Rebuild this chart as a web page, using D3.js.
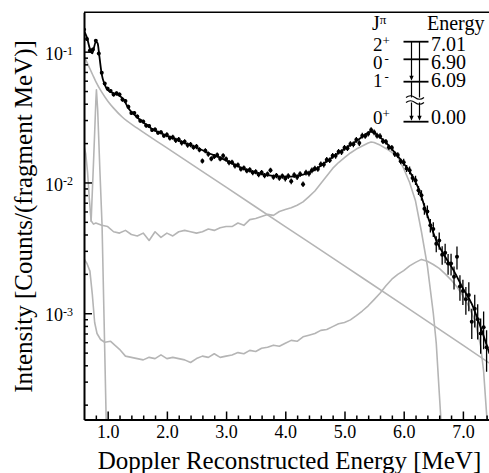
<!DOCTYPE html>
<html>
<head>
<meta charset="utf-8">
<script src="https://cdn.jsdelivr.net/npm/d3@7"></script>
<style>
body { margin: 0; background: #fff; }
</style>
</head>
<body>
<div id="chart"></div>
<script>
// measured spectrum, bins of 0.05 MeV (energy, counts, relative error)
var dataE = [
  0.60,0.65,0.70,0.75,0.80,0.85,0.90,0.95,
  1.00,1.05,1.10,1.15,1.20,1.25,1.30,1.35,1.40,1.45,
  1.50,1.55,1.60,1.65,1.70,1.75,1.80,1.85,1.90,1.95,
  2.00,2.05,2.10,2.15,2.20,2.25,2.30,2.35,2.40,2.45,
  2.50,2.55,2.60,2.65,2.70,2.75,2.80,2.85,2.90,2.95,
  3.00,3.05,3.10,3.15,3.20,3.25,3.30,3.35,3.40,3.45,
  3.50,3.55,3.60,3.65,3.70,3.75,3.80,3.85,3.90,3.95,
  4.00,4.05,4.10,4.15,4.20,4.25,4.30,4.35,4.40,4.45,
  4.50,4.55,4.60,4.65,4.70,4.75,4.80,4.85,4.90,4.95,
  5.00,5.05,5.10,5.15,5.20,5.25,5.30,5.35,5.40,5.45,
  5.50,5.55,5.60,5.65,5.70,5.75,5.80,5.85,5.90,5.95,
  6.00,6.05,6.10,6.15,6.20,6.25,6.30,6.35,6.40,6.45,
  6.50,6.55,6.60,6.65,6.70,6.75,6.80,6.85,6.90,6.95,
  7.00,7.05,7.10,7.15,7.20,7.25,7.30,7.35,7.40];
var dataVal = [
  0.148,0.125,0.102,0.104,0.121,0.097,0.069,0.057,
  0.052,0.050,0.047,0.048,0.047,0.043,0.042,0.038,0.034,0.034,
  0.0320,0.0296,0.0292,0.0272,0.0270,0.0252,0.0254,0.0240,0.0242,0.0228,
  0.0232,0.0219,0.0222,0.0210,0.0213,0.0201,0.0205,0.0193,0.0195,0.0186,
  0.0188,0.0178,0.0146,0.0175,0.0165,0.0152,0.0158,0.0162,0.0152,0.0160,
  0.0151,0.0142,0.0143,0.0134,0.0136,0.0127,0.0129,0.0123,0.0125,0.0119,
  0.0121,0.0115,0.0119,0.0113,0.0116,0.0124,0.0110,0.0113,0.0108,0.0112,
  0.0107,0.0112,0.0102,0.0114,0.0110,0.0116,0.0097,0.0119,0.0117,0.0124,
  0.0128,0.0127,0.0138,0.0137,0.0149,0.0148,0.0160,0.0160,0.0172,0.0171,
  0.0184,0.0183,0.0197,0.0196,0.0212,0.0200,0.0228,0.0227,0.0236,0.0252,
  0.0242,0.0228,0.0226,0.0207,0.0205,0.0186,0.0184,0.0165,0.0162,0.0145,
  0.0143,0.0128,0.0124,0.0108,0.0104,0.0087,0.0080,0.0063,0.0060,0.0047,
  0.0044,0.0034,0.0036,0.0028,0.0029,0.0024,0.0024,0.0019,0.0027,0.0016,
  0.00148,0.00128,0.00138,0.00086,0.00108,0.00090,0.00070,0.00078,0.00055];
var dataErr = [
  0.03,0.03,0.03,0.03,0.03,0.03,0.03,0.03,
  0.035,0.035,0.035,0.035,0.035,0.035,0.035,0.035,0.035,0.035,
  0.035,0.035,0.035,0.035,0.035,0.035,0.035,0.035,0.035,0.035,
  0.045,0.045,0.045,0.045,0.045,0.045,0.045,0.045,0.045,0.045,
  0.045,0.045,0.045,0.045,0.045,0.045,0.045,0.045,0.045,0.045,
  0.045,0.045,0.045,0.045,0.045,0.045,0.045,0.045,0.045,0.045,
  0.045,0.045,0.045,0.045,0.045,0.045,0.045,0.045,0.045,0.045,
  0.05,0.05,0.05,0.05,0.05,0.05,0.05,0.05,0.05,0.05,
  0.05,0.05,0.05,0.05,0.05,0.05,0.05,0.05,0.05,0.05,
  0.05,0.05,0.05,0.05,0.05,0.05,0.05,0.05,0.05,0.05,
  0.05,0.05,0.05,0.05,0.05,0.05,0.05,0.05,0.05,0.05,
  0.06,0.06,0.07,0.07,0.08,0.08,0.09,0.10,0.11,0.12,
  0.13,0.14,0.15,0.16,0.17,0.18,0.19,0.20,0.20,0.22,
  0.22,0.24,0.25,0.26,0.28,0.30,0.30,0.32,0.35];

// total fit (black line)
var fitCurve = [[0.60,0.145],[0.65,0.128],[0.70,0.105],[0.74,0.097],[0.77,0.108],[0.80,0.119],
  [0.83,0.116],[0.86,0.092],[0.90,0.067],[0.95,0.056],[1.00,0.051],[1.10,0.048],[1.20,0.046],
  [1.27,0.043],[1.35,0.037],[1.45,0.033],[1.55,0.030],[1.65,0.0277],[1.75,0.0256],[1.90,0.0238],
  [2.10,0.0218],[2.30,0.0200],[2.50,0.0185],[2.70,0.0168],[2.90,0.0155],[3.10,0.0140],[3.30,0.0127],
  [3.50,0.0119],[3.70,0.0114],[3.90,0.0111],[4.10,0.0111],[4.30,0.0115],[4.50,0.0125],[4.70,0.0145],
  [4.90,0.0168],[5.10,0.0193],[5.25,0.0215],[5.35,0.0232],[5.45,0.0245],[5.55,0.0232],[5.65,0.0212],
  [5.80,0.0180],[5.95,0.0149],[6.10,0.0121],[6.25,0.0090],[6.40,0.0056],[6.55,0.0036],[6.70,0.0027],
  [6.85,0.0021],[7.00,0.00155],[7.15,0.00118],[7.30,0.00078],[7.45,0.00049]];

// exponential background
var bgCurve = [[0.60,0.093],[0.65,0.083],[0.70,0.074],[0.75,0.066],[0.80,0.059],[0.90,0.049],
  [1.00,0.042],[1.10,0.037],[1.25,0.0315],[1.50,0.026],[2.00,0.0184],[3.00,0.0092],[4.00,0.0046],
  [5.00,0.0023],[6.00,0.00115],[7.00,0.00057],[7.50,0.00040]];

// simulated response, 6.09 MeV
var resp609 = [[0.60,0.0190],[0.63,0.0165],[0.66,0.0120],[0.69,0.0075],[0.72,0.0051],[0.76,0.0048],
  [0.80,0.0049],[0.90,0.0047],[1.00,0.0046],[1.10,0.0042],[1.20,0.0041],[1.30,0.0043],[1.40,0.0040],
  [1.50,0.0039],[1.60,0.0041],[1.70,0.0036],[1.80,0.0042],[1.90,0.0038],[2.00,0.0041],[2.10,0.0039],
  [2.20,0.0042],[2.30,0.0043],[2.40,0.0042],[2.50,0.0041],[2.60,0.0042],[2.70,0.0044],[2.80,0.0043],
  [2.90,0.0045],[3.00,0.0046],[3.10,0.0046],[3.20,0.0049],[3.30,0.0047],[3.40,0.0052],[3.50,0.0053],
  [3.60,0.0055],[3.70,0.0057],[3.80,0.0056],[3.90,0.0060],[4.00,0.0062],[4.10,0.0064],[4.20,0.0067],
  [4.30,0.0071],[4.40,0.0078],[4.50,0.0086],[4.60,0.0098],[4.70,0.0112],[4.80,0.0128],[4.90,0.0142],
  [5.00,0.0155],[5.10,0.0168],[5.20,0.0180],[5.30,0.0190],[5.40,0.0200],[5.45,0.0204],[5.50,0.0202],
  [5.60,0.0193],[5.70,0.0182],[5.80,0.0170],[5.90,0.0156],[6.00,0.0128],[6.10,0.0100],[6.20,0.0072],
  [6.30,0.0042],[6.40,0.0023],[6.50,0.0010],[6.55,0.00059],[6.60,0.00025],[6.63,0.00015]];

// simulated response, 7.01 MeV
var resp701 = [[0.60,0.0026],[0.65,0.0024],[0.70,0.0021],[0.74,0.0014],[0.78,0.00085],[0.82,0.00070],
  [0.88,0.00063],[0.95,0.00060],[1.05,0.00061],[1.12,0.00057],[1.20,0.00053],[1.30,0.00047],
  [1.40,0.00046],[1.50,0.00045],[1.60,0.00044],[1.70,0.00046],[1.80,0.00045],[1.90,0.00048],
  [2.00,0.00045],[2.10,0.00046],[2.20,0.00045],[2.30,0.00044],[2.40,0.00042],[2.50,0.00045],
  [2.60,0.00047],[2.70,0.00046],[2.80,0.00049],[2.90,0.00046],[3.00,0.00047],[3.10,0.00048],
  [3.20,0.00050],[3.30,0.00049],[3.40,0.00052],[3.50,0.00051],[3.60,0.00054],[3.70,0.00055],
  [3.80,0.00057],[3.90,0.00056],[4.00,0.00059],[4.10,0.00062],[4.20,0.00061],[4.30,0.00066],
  [4.40,0.00068],[4.50,0.00070],[4.60,0.00074],[4.70,0.00075],[4.80,0.00079],[4.90,0.00083],
  [5.00,0.00085],[5.10,0.00089],[5.20,0.00096],[5.30,0.00104],[5.40,0.00114],[5.50,0.00127],
  [5.60,0.00142],[5.70,0.00162],[5.80,0.00182],[5.90,0.00198],[6.00,0.00212],[6.10,0.00230],
  [6.20,0.00245],[6.30,0.00258],[6.40,0.00250],[6.50,0.00236],[6.60,0.00220],[6.70,0.00200],
  [6.80,0.00180],[6.90,0.00159],[7.00,0.00136],[7.10,0.00113],[7.20,0.00088],[7.30,0.00056],
  [7.35,0.00036],[7.40,0.00017],[7.42,0.00014]];

// simulated response, 0.92 MeV (7.01 -> 6.09)
var resp092 = [[0.72,0.0050],[0.76,0.014],[0.78,0.024],[0.80,0.042],[0.81,0.051],[0.831,0.036],
  [0.868,0.0125],[0.905,0.0047],[0.939,0.0009],[0.975,0.00015]];

var xTicks = [1, 2, 3, 4, 5, 6, 7];
var xTickLabels = ["1.0", "2.0", "3.0", "4.0", "5.0", "6.0", "7.0"];
var yTicks = [1e-1, 1e-2, 1e-3];
var yTickExp = ["-1", "-2", "-3"];

// level scheme
var levelSpin = ["2", "0", "1", "0"];
var levelParity = ["+", "-", "-", "+"];
var levelEnergy = ["7.01", "6.90", "6.09", "0.00"];
var transitions = [[0, 2], [2, 3], [0, 3]];

var FONT = "'Liberation Serif', monospace";
var W = 489, H = 473;
var svg = d3.select("#chart").append("svg")
  .attr("width", W).attr("height", H)
  .style("background", "#fff");

var x = d3.scaleLinear().domain([0.6, 7.5]).range([84, 492.5]);
var y = d3.scaleLog().domain([1.54e-4, 0.2]).range([419.5, 12.3]);

svg.append("clipPath").attr("id", "plotclip")
  .append("rect")
  .attr("x", x.range()[0]).attr("y", y.range()[1])
  .attr("width", x.range()[1] - x.range()[0])
  .attr("height", y.range()[0] - y.range()[1]);

var plot = svg.append("g").attr("clip-path", "url(#plotclip)");

var line = d3.line()
  .x(function(d) { return x(d[0]); })
  .y(function(d) { return y(d[1]); });

//gray components
[resp701, resp609, resp092].forEach(function(c) {
  plot.append("path").datum(c)
    .attr("fill", "none")
    .attr("stroke", "#b5b5b5")
    .attr("stroke-width", 1.6)
    .attr("stroke-linejoin", "round")
    .attr("d", line);
});
plot.append("path").datum(bgCurve)
  .attr("fill", "none")
  .attr("stroke", "#b5b5b5")
  .attr("stroke-width", 1.6)
  .attr("d", line.curve(d3.curveMonotoneX));

//fit line
plot.append("path").datum(fitCurve)
  .attr("fill", "none")
  .attr("stroke", "#000")
  .attr("stroke-width", 1.8)
  .attr("stroke-linejoin", "round")
  .attr("d", line);

//data points with error bars
var pts = dataE.map(function(e, i) { return { e: e, v: dataVal[i], r: dataErr[i] }; });
plot.selectAll(".err").data(pts).enter().append("line")
  .attr("x1", function(d) { return x(d.e); })
  .attr("x2", function(d) { return x(d.e); })
  .attr("y1", function(d) { return y(d.v * (1 - d.r)); })
  .attr("y2", function(d) { return y(d.v * (1 + d.r)); })
  .attr("stroke", "#000")
  .attr("stroke-width", 1.3);
plot.selectAll(".pt").data(pts).enter().append("circle")
  .attr("cx", function(d) { return x(d.e); })
  .attr("cy", function(d) { return y(d.v); })
  .attr("r", 2)
  .attr("fill", "#000");

//axes
svg.append("g")
  .attr("transform", "translate(0," + y.range()[0] + ")")
  .call(d3.axisBottom(x).tickValues(xTicks)
    .tickFormat(function(d, i) { return xTickLabels[i]; })
    .tickSize(-8).tickSizeOuter(0).tickPadding(6));
svg.append("g")
  .attr("transform", "translate(0," + y.range()[0] + ")")
  .call(d3.axisBottom(x).tickValues(d3.range(0.8, 7.45, 0.2).filter(function(v) {
      return Math.abs(v - Math.round(v)) > 0.01; }))
    .tickFormat("").tickSize(-4).tickSizeOuter(0))
  .call(function(g) { g.select(".domain").remove(); });

var yAxis = svg.append("g")
  .attr("transform", "translate(" + x.range()[0] + ",0)")
  .call(d3.axisLeft(y).tickValues(yTicks).tickSize(-8).tickSizeOuter(0).tickPadding(11));
yAxis.selectAll(".tick text").text(null)
  .attr("dy", "0.42em")
  .each(function(d, i) {
    var t = d3.select(this);
    t.append("tspan").text("10");
    t.append("tspan").attr("dy", "-0.42em").style("font-size", "12px").text(yTickExp[i]);
  });
svg.append("g")
  .attr("transform", "translate(" + x.range()[0] + ",0)")
  .call(d3.axisLeft(y).tickValues(y.ticks().filter(function(v) {
      return yTicks.indexOf(v) < 0 && v < 0.19; }))
    .tickFormat("").tickSize(-4).tickSizeOuter(0))
  .call(function(g) { g.select(".domain").remove(); });

svg.selectAll(".domain").attr("stroke-width", 2);
svg.selectAll(".tick line").attr("stroke-width", 1.5);
svg.selectAll("g").attr("font-family", null);
svg.selectAll(".tick text").style("font-size", "18px");

//top frame
svg.append("line")
  .attr("x1", x.range()[0]).attr("x2", x.range()[1])
  .attr("y1", y.range()[1]).attr("y2", y.range()[1])
  .attr("stroke", "#000").attr("stroke-width", 1.6);

//axis titles
svg.append("text")
  .attr("x", 289.5).attr("y", 468.5)
  .attr("text-anchor", "middle")
  .style("font-size", "25px")
  .text("Doppler Reconstructed Energy [MeV]");
svg.append("text")
  .attr("transform", "translate(31.5,216.5) rotate(-90)")
  .attr("text-anchor", "middle")
  .style("font-size", "25px")
  .text("Intensity [Counts/(fragment MeV)]");

//level scheme inset
var inset = svg.append("g");
var rowY = [41.7, 59.3, 81.7, 121.7];
var rowBase = [51, 68.5, 87, 124];
var lvX1 = 403.5, lvX2 = 428.5, arrX = [411.5, 411.5, 419.5];

var jh = inset.append("text").attr("x", 372).attr("y", 29.5).style("font-size", "20px").text("J");
jh.append("tspan").attr("dy", "-0.4em").style("font-size", "13px").text("π");
inset.append("text").attr("x", 427).attr("y", 29.5).style("font-size", "20px").text("Energy");

levelSpin.forEach(function(s, i) {
  var t = inset.append("text").attr("x", 373).attr("y", rowBase[i]).style("font-size", "19px").text(s);
  t.append("tspan").attr("dy", "-0.45em").attr("dx", levelParity[i] == "-" ? 2 : 0)
    .style("font-size", "13px").text(levelParity[i]);
  inset.append("text").attr("x", 431).attr("y", rowBase[i]).style("font-size", "20px").text(levelEnergy[i]);
  inset.append("line")
    .attr("x1", lvX1).attr("x2", lvX2).attr("y1", rowY[i]).attr("y2", rowY[i])
    .attr("stroke", "#000").attr("stroke-width", 1.8);
});

transitions.forEach(function(tr, i) {
  var ax = arrX[i], y0 = rowY[tr[0]], y1 = rowY[tr[1]] - 1;
  inset.append("line")
    .attr("x1", ax).attr("x2", ax).attr("y1", y0).attr("y2", y1 - 4)
    .attr("stroke", "#000").attr("stroke-width", 1.2);
  inset.append("path")
    .attr("d", "M" + (ax - 2.2) + "," + (y1 - 5) + "L" + (ax + 2.2) + "," + (y1 - 5) + "L" + ax + "," + y1 + "Z")
    .attr("fill", "#000");
});

//break marks on the long transitions
inset.append("rect").attr("x", 406).attr("y", 97.5).attr("width", 18).attr("height", 5).attr("fill", "#fff");
[97.5, 102.5].forEach(function(by) {
  inset.append("path")
    .attr("d", "M406," + by + " q4.5,-3.5 9,0 t9,0")
    .attr("fill", "none").attr("stroke", "#000").attr("stroke-width", 1.1);
});

// serif everywhere, set inline so nothing overrides it
svg.selectAll("text, tspan").style("font-family", FONT).style("fill", "#000");
</script>
</body>
</html>
